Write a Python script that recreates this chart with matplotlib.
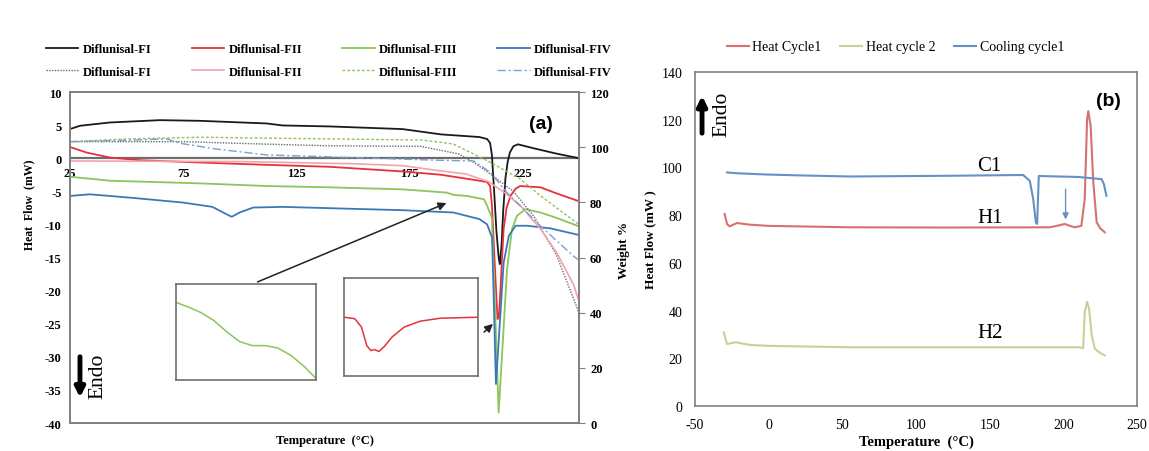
import matplotlib
matplotlib.use('Agg')
import matplotlib.pyplot as plt
from matplotlib.lines import Line2D

plt.rcParams['font.family'] = ['Liberation Serif', 'DejaVu Serif']
plt.rcParams['axes.unicode_minus'] = False

# ---------------- Panel (a) data : DSC (left axis, mW) ----------------
fi_T = [25, 29.4, 42.7, 64.8, 82.5, 112, 119, 140, 172, 189, 206, 209.4, 210.7, 211.5, 212.5, 213.5, 214.5,
        215, 215.8, 216.5, 217.5, 218.5, 219.5, 221, 223, 230, 240, 250]
fi_HF = [4.4, 4.9, 5.4, 5.75, 5.65, 5.25, 4.95, 4.8, 4.4, 3.6, 3.2, 2.9, 2.3, 0.5, -5, -11, -15,
         -16, -13, -8, -3, -0.5, 0.9, 1.8, 2.1, 1.5, 0.7, 0.0]

fii_T = [25, 32.4, 42.7, 56, 82.5, 112, 140, 172, 189, 206, 209.4, 210.7, 211.5, 212.5, 213.5, 214,
         214.6, 215.3, 216, 216.7, 218, 219.7, 222, 224, 233, 240, 250]
fii_HF = [1.7, 0.85, 0.1, -0.3, -0.65, -1.0, -1.3, -2.0, -2.5, -3.4, -3.6, -4.2, -7, -14, -21, -24.3,
          -24.0, -19.8, -15, -10.7, -7.5, -5.7, -4.6, -4.2, -4.4, -5.3, -6.5]

fiii_T = [25, 42.7, 82.5, 112, 140, 172, 191.7, 194.6, 200.5, 208, 209.4, 211.5, 214.5, 218.2, 220.4,
          222.6, 226.3, 233, 240, 250]
fiii_HF = [-2.8, -3.4, -3.8, -4.2, -4.4, -4.7, -5.2, -5.55, -5.7, -6.2, -7.2, -9, -38.4, -16.8, -10.7,
           -8.7, -7.7, -8.2, -9.0, -10.3]

fiv_T = [25, 33.8, 53, 75, 88, 92.7, 96.5, 100, 106, 119, 140, 172, 194.5, 206, 209.4, 211.6, 213.3,
         216.7, 219, 222, 227, 237.4, 250]
fiv_HF = [-5.7, -5.45, -6.0, -6.7, -7.35, -8.2, -8.85, -8.2, -7.45, -7.35, -7.55, -7.85, -8.2, -9.2,
          -10, -12, -34.1, -15.8, -11.7, -10.2, -10.2, -10.6, -11.6]

# ---------------- Panel (a) data : TGA (right axis, weight %) ----------------
tga_fi_T = [25, 75, 112, 140, 180, 190, 197, 203.5, 210.8, 221, 230, 240, 250]
tga_fi_W = [102, 102, 101.1, 100.5, 100.3, 98.7, 97.5, 94.5, 90.3, 84, 75, 61, 40]

tga_fii_T = [25, 100, 150, 172, 188, 200, 210, 218, 225, 233, 240, 247.7, 250]
tga_fii_W = [95, 94.8, 94, 93.3, 91.5, 90.3, 87.5, 83, 78, 70.3, 62, 50, 44]

tga_fiii_T = [25, 50, 82.5, 140, 180, 188.7, 194.6, 203.5, 210.8, 224, 233, 244.8, 250]
tga_fiii_W = [102, 103, 103.6, 103, 102.6, 101.8, 101.1, 97.5, 94.5, 88.5, 82.4, 75.1, 72]

tga_fiv_T = [25, 50, 67.8, 73.7, 89.9, 112, 140, 185.8, 203.5, 210.8, 218, 233, 247.6, 250]
tga_fiv_W = [102, 102.5, 103, 101.4, 99.3, 97.2, 96.5, 95.3, 95, 90.9, 83.7, 71.4, 60.5, 59]

# ---------------- insets ----------------
inset1_T = [178, 180, 182, 184, 186, 188, 190, 192, 194, 196, 198, 200]
inset1_HF = [-5.23, -5.29, -5.36, -5.46, -5.60, -5.72, -5.77, -5.77, -5.80, -5.89, -6.02, -6.18]

inset2_T = [205, 205.8, 206.3, 206.7, 207.0, 207.3, 207.6, 208.0, 208.6, 209.5, 210.7, 212.2, 215]
inset2_HF = [-3.40, -3.415, -3.50, -3.69, -3.74, -3.73, -3.75, -3.70, -3.60, -3.50, -3.44, -3.41, -3.40]

a_xticks = [25, 75, 125, 175, 225]
a_labels_dsc = ['Diflunisal-FI', 'Diflunisal-FII', 'Diflunisal-FIII', 'Diflunisal-FIV']

# ---------------- Panel (b) data ----------------
c1_T = [-28.3, -20, 0, 25, 55, 122.9, 168, 172.7, 177.2, 179.5, 181.3, 182.2, 183.3, 190, 210, 225.9,
        227.5, 229.2]
c1_HF = [97.9, 97.5, 97.0, 96.6, 96.2, 96.5, 96.8, 96.8, 94.4, 86.8, 77, 76.3, 96.4, 96.3, 96.0, 95.1,
         93, 88.1]

h1_T = [-29.9, -28.3, -26.5, -21.5, -12.9, 0, 55, 120, 190.8, 197.6, 200.9, 204, 207.7, 212.2, 214.5,
        216.1, 216.9, 218.5, 220.3, 222.6, 225, 228.1]
h1_HF = [80.5, 76.3, 75.3, 76.7, 76.0, 75.5, 74.9, 74.8, 74.9, 75.8, 76.3, 75.6, 74.9, 75.5, 86.8,
         120.3, 123.6, 117.5, 93.8, 77, 74.5, 72.8]

h2_T = [-30.5, -28.3, -22.4, -12.9, 0, 55, 120, 211.1, 213.4, 214.5, 216.1, 217.5, 219.2, 221.4, 224,
        228.1]
h2_HF = [30.9, 26.0, 26.7, 25.6, 25.2, 24.6, 24.6, 24.6, 24.2, 39.3, 43.7, 40.6, 29.6, 24.0, 22.6, 21.2]

b_labels = ['Heat Cycle1', 'Heat cycle 2', 'Cooling cycle1']

# ---------------- colours ----------------
c_black, c_red, c_green, c_blue = '#1a1a1a', '#e8303c', '#8cc55a', '#3c78b8'
c_tga_fi, c_tga_fii, c_tga_fiii, c_tga_fiv = '#6a6a6a', '#f2a3ad', '#8cc55a', '#7c9fd0'
b_red, b_green, b_blue = '#d87070', '#c0d49a', '#6690c6'
spine_c = '#808080'

fig = plt.figure(figsize=(11.49, 4.52), dpi=100)

# ================= Panel (a) =================
ax = fig.add_axes([0.0609, 0.0619, 0.4430, 0.7323])
ax.plot(fi_T, fi_HF, color=c_black, lw=1.3)
ax.plot(fii_T, fii_HF, color=c_red, lw=1.3)
ax.plot(fiii_T, fiii_HF, color=c_green, lw=1.3)
ax.plot(fiv_T, fiv_HF, color=c_blue, lw=1.3)
ax.axhline(0, color='#6e6e6e', lw=1.6, zorder=1)
ax.set_xlim(25, 250)
ax.set_ylim(-40, 10)
ax.set_yticks(range(-40, 11, 5))
ax.set_xticks([])
ax.tick_params(axis='y', length=0, pad=6, labelsize=9)
for lab in ax.get_yticklabels():
    lab.set_fontweight('bold')
for s in ax.spines.values():
    s.set_color(spine_c)
    s.set_linewidth(1.2)
ax.set_ylabel('Heat  Flow  (mW)', fontsize=8.5, fontweight='bold')
ax.yaxis.set_label_coords(-0.069, 0.662)
ax.set_xlabel('Temperature  (\u00b0C)', fontsize=9, fontweight='bold', labelpad=8)

sec = ax.secondary_xaxis(0.8)
sec.set_alignment('bottom')
sec.set_xticks(a_xticks)
sec.tick_params(length=0, pad=6, labelsize=9)
for lab in sec.get_xticklabels():
    lab.set_fontweight('bold')
for s in sec.spines.values():
    s.set_visible(False)

ax2 = ax.twinx()
ax2.plot(tga_fi_T, tga_fi_W, color=c_tga_fi, lw=1.0, ls=(0, (1, 1)))
ax2.plot(tga_fii_T, tga_fii_W, color=c_tga_fii, lw=1.2)
ax2.plot(tga_fiii_T, tga_fiii_W, color=c_tga_fiii, lw=1.0, ls=(0, (2, 1.5)))
ax2.plot(tga_fiv_T, tga_fiv_W, color=c_tga_fiv, lw=1.0, ls=(0, (6, 2, 1.5, 2)))
ax2.set_ylim(0, 120)
ax2.set_yticks(range(0, 121, 20))
ax2.tick_params(axis='y', length=4, color=spine_c, pad=4, labelsize=9)
for lab in ax2.get_yticklabels():
    lab.set_fontweight('bold')
for s in ax2.spines.values():
    s.set_color(spine_c)
    s.set_linewidth(1.2)
ax2.set_ylabel('Weight %', fontsize=9.5, fontweight='bold')
ax2.yaxis.set_label_coords(1.077, 0.523)

ax.text(0.925, 0.905, '(a)', transform=ax.transAxes, fontsize=14, fontweight='bold',
        family='Liberation Sans', ha='center', va='center')

# legend (a)
handles = []
labels = []
dsc_cols = [c_black, c_red, c_green, c_blue]
tga_styles = [dict(color=c_tga_fi, lw=1.0, ls=(0, (1, 1))),
              dict(color=c_tga_fii, lw=1.2, ls='-'),
              dict(color=c_tga_fiii, lw=1.0, ls=(0, (2, 1.5))),
              dict(color=c_tga_fiv, lw=1.0, ls=(0, (6, 2, 1.5, 2)))]
for i in range(4):
    handles.append(Line2D([], [], color=dsc_cols[i], lw=1.3))
    labels.append(a_labels_dsc[i])
    handles.append(Line2D([], [], **tga_styles[i]))
    labels.append(a_labels_dsc[i])
fig.legend(handles, labels, ncol=4, loc='center', bbox_to_anchor=(0.2863, 0.864), frameon=False,
           prop=dict(family='Liberation Serif', weight='bold', size=9), handlelength=2.6,
           handletextpad=0.35, columnspacing=3.2, labelspacing=0.85)

# insets
in1 = fig.add_axes([0.1532, 0.1571, 0.1218, 0.2124])
in1.plot(inset1_T, inset1_HF, color=c_green, lw=1.1)
in1.set_xlim(178, 200)
in1.set_ylim(-6.2, -5.0)
in2 = fig.add_axes([0.2994, 0.1659, 0.1166, 0.2168])
in2.plot(inset2_T, inset2_HF, color=c_red, lw=1.1)
in2.set_xlim(205, 215)
in2.set_ylim(-4.0, -3.0)
for a in (in1, in2):
    a.set_xticks([])
    a.set_yticks([])
    for s in a.spines.values():
        s.set_color('#6e6e6e')
        s.set_linewidth(1.2)

# arrows (a)
ax.annotate('', xy=(0.3908, 0.5509), xytext=(0.2219, 0.3717), xycoords='figure fraction',
            arrowprops=dict(arrowstyle='-|>', color='#222222', lw=1.1, mutation_scale=12))
ax.annotate('', xy=(0.4308, 0.2854), xytext=(0.4195, 0.2588), xycoords='figure fraction',
            arrowprops=dict(arrowstyle='-|>', color='#222222', lw=1.1, mutation_scale=12))
ax.annotate('', xy=(0.0696, 0.112), xytext=(0.0696, 0.2146), xycoords='figure fraction',
            arrowprops=dict(arrowstyle='-|>', color='black', lw=3.5, mutation_scale=14))
fig.text(0.0853, 0.168, 'Endo', rotation=90, fontsize=15.5, ha='center', va='center')

# ================= Panel (b) =================
bx = fig.add_axes([0.6049, 0.0996, 0.3847, 0.7389])
l1, = bx.plot(h1_T, h1_HF, color=b_red, lw=1.5)
l2, = bx.plot(h2_T, h2_HF, color=b_green, lw=1.5)
l3, = bx.plot(c1_T, c1_HF, color=b_blue, lw=1.5)
bx.set_xlim(-50, 250)
bx.set_ylim(0, 140)
bx.set_xticks(range(-50, 251, 50))
bx.set_yticks(range(0, 141, 20))
bx.tick_params(axis='x', length=0, pad=9, labelsize=10)
bx.tick_params(axis='y', length=0, pad=9, labelsize=10)
for s in bx.spines.values():
    s.set_color(spine_c)
    s.set_linewidth(1.2)
bx.set_xlabel('Temperature  (\u00b0C)', fontsize=10.5, fontweight='bold', labelpad=2)
bx.set_ylabel('Heat Flow (mW )', fontsize=9.5, fontweight='bold', labelpad=4)
bx.text(0.935, 0.915, '(b)', transform=bx.transAxes, fontsize=14, fontweight='bold',
        family='Liberation Sans', ha='center', va='center')
bx.text(150, 101, 'C1', fontsize=15, ha='center', va='center')
bx.text(150, 79, 'H1', fontsize=15, ha='center', va='center')
bx.text(150, 31, 'H2', fontsize=15, ha='center', va='center')
bx.annotate('', xy=(201.5, 77), xytext=(201.5, 92),
            arrowprops=dict(arrowstyle='-|>', color=b_blue, lw=1.0, mutation_scale=9))
fig.legend([l1, l2, l3], b_labels, ncol=3, loc='center', bbox_to_anchor=(0.7794, 0.894), frameon=False,
           prop=dict(family='Liberation Serif', size=10), handlelength=1.58, handletextpad=0.25,
           columnspacing=1.35)
bx.annotate('', xy=(0.611, 0.792), xytext=(0.611, 0.697), xycoords='figure fraction',
            arrowprops=dict(arrowstyle='-|>', color='black', lw=3.5, mutation_scale=14))
fig.text(0.628, 0.746, 'Endo', rotation=90, fontsize=15.5, ha='center', va='center')

fig.savefig('out.png', dpi=100)
